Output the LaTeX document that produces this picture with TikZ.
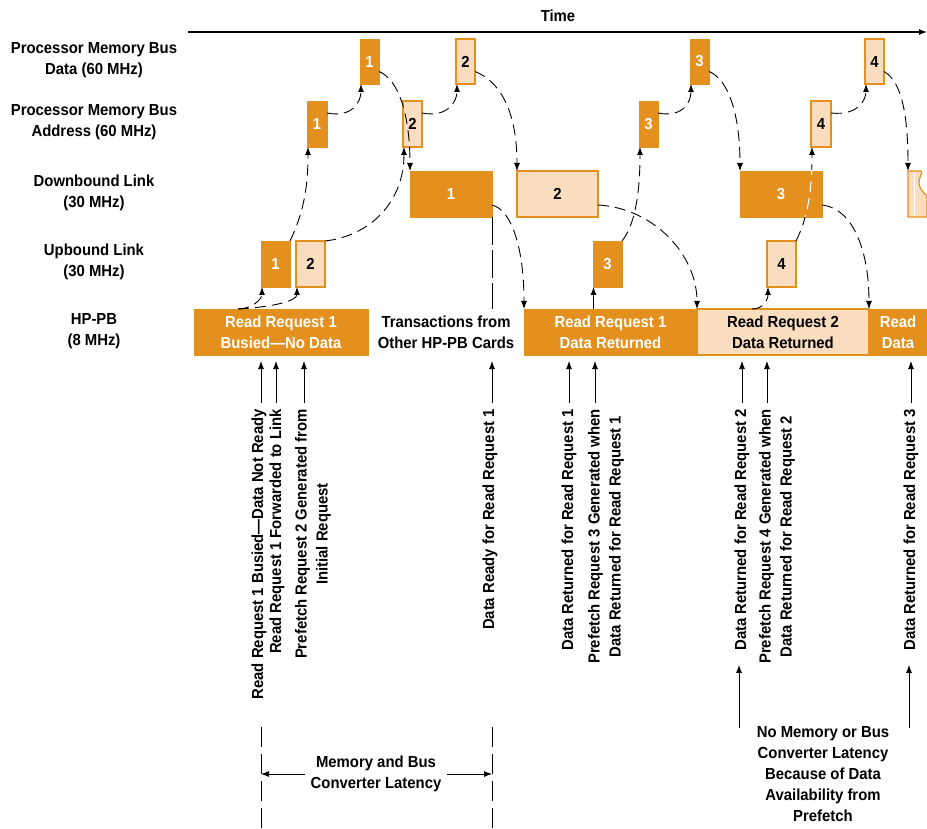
\documentclass[tikz,border=0pt]{standalone}
\usepackage{fontspec}
\setmainfont{Liberation Sans}[FakeStretch=0.93]
\usepackage{tikz}
\usetikzlibrary{arrows.meta}
\definecolor{hporange}{RGB}{228,144,30}
\definecolor{hplight}{RGB}{249,221,190}

\begin{document}
\begin{tikzpicture}[x=1pt,y=-1pt,>={Latex[length=8pt,width=6pt]},
  every node/.style={font=\fontsize{16}{21}\selectfont\bfseries},
  dk/.style={fill=hporange,draw=hporange,text=white,align=center,inner sep=0pt,outer sep=0pt},
  lt/.style={fill=hplight,draw=hporange,line width=1.2pt,text=black,align=center,inner sep=0pt,outer sep=0pt},
  lnk/.style={->,line width=0.9pt,dash pattern=on 11pt off 6pt},
  lbl/.style={rotate=90,anchor=east,align=center,inner sep=0pt}]
\useasboundingbox (0,0) rectangle (927,829);
% time axis
\coordinate (tstart) at (188,32);
\coordinate (tend) at (927,32);
\draw [line width=1.2pt,->] (tstart) -- (tend);
\node (time) at (558,16) {Time};
% row labels
\node [align=center] (lpd) at (94,60.5) {Processor Memory Bus\\Data (60 MHz)};
\node [align=center] (lpa) at (94,122.5) {Processor Memory Bus\\Address (60 MHz)};
\node [align=center] (ldn) at (94,192.5) {Downbound Link\\(30 MHz)};
\node [align=center] (lup) at (94,262) {Upbound Link\\(30 MHz)};
\node [align=center] (lhp) at (94,331.5) {HP-PB\\(8 MHz)};
% memory bus data
\node [dk,minimum width=19pt,minimum height=45pt] (d1) at (369.5,61.5) {1};
\node [lt,minimum width=19pt,minimum height=45pt] (d2) at (465.5,61.5) {2};
\node [dk,minimum width=19pt,minimum height=45pt] (d3) at (699.5,61.5) {3};
\node [lt,minimum width=19pt,minimum height=45pt] (d4) at (874.5,61.5) {4};
% memory bus address
\node [dk,minimum width=20pt,minimum height=46pt] (a1) at (317,124) {1};
\node [lt,minimum width=19pt,minimum height=46pt] (a2) at (412.5,124) {2};
\node [dk,minimum width=19pt,minimum height=46pt] (a3) at (648.5,124) {3};
\node [lt,minimum width=20pt,minimum height=46pt] (a4) at (821,124) {4};
% downbound link
\node [dk,minimum width=82pt,minimum height=46pt] (w1) at (451,194) {1};
\node [lt,minimum width=81pt,minimum height=46pt] (w2) at (557.5,194) {2};
\node [dk,minimum width=82pt,minimum height=46pt] (w3) at (781,194) {3};
\filldraw [fill=hplight,draw=hporange,line width=1.2pt] (908,171) -- (921,171)
  .. controls (924,171) and (918,178) .. (919,184)
  .. controls (920,190) and (925,194) .. (927,196) -- (927,217) -- (908,217) -- cycle;
\draw [white,line width=0.6pt] (914,173) -- (914,215);
\coordinate (w4) at (908,171);
% upbound link
\node [dk,minimum width=29pt,minimum height=46pt] (u1) at (275.5,264) {1};
\node [lt,minimum width=29pt,minimum height=46pt] (u2) at (310.5,264) {2};
\node [dk,minimum width=29pt,minimum height=46pt] (u3) at (607.5,264) {3};
\node [lt,minimum width=29pt,minimum height=46pt] (u4) at (781.5,264) {4};
% hp-pb
\node [dk,minimum width=174pt,minimum height=46pt] (h1) at (281,332) {Read Request 1\\Busied---No Data};
\node [align=center] (oth) at (446,332) {Transactions from\\Other HP-PB Cards};
\node [dk,minimum width=173pt,minimum height=46pt] (h2) at (610.5,332) {Read Request 1\\Data Returned};
\node [lt,minimum width=172pt,minimum height=46pt] (h3) at (783,332) {Read Request 2\\Data Returned};
\node [dk,minimum width=58pt,minimum height=46pt] (h4) at (898,332) {Read\\Data};
%% transfers
\coordinate (rq1) at ([xshift=-43pt]h1.north);
\draw [lnk] (rq1) .. controls +(14,0) and +(0,12) .. ([xshift=1pt]u1.south west);
\draw [lnk] (rq1) .. controls +(35,-2) and +(0,14) .. ([xshift=1pt]u2.south west);
\draw [lnk] (u1.north east) .. controls +(12,-25) and +(0,45) .. ([xshift=1pt]a1.south west);
\draw [lnk] (u2.north east) .. controls +(45,-5) and +(0,55) .. ([xshift=1pt]a2.south west);
\draw [lnk] ([yshift=11pt]a1.east) .. controls +(25,5) and +(0,18) .. ([xshift=1pt]d1.south west);
\draw [lnk] ([yshift=11pt]a2.east) .. controls +(25,5) and +(0,18) .. ([xshift=1pt]d2.south west);
\draw [lnk] ([yshift=-10pt]d1.east) .. controls +(20,8) and +(0,-55) .. (w1.north west);
\draw [lnk] ([yshift=-10pt]d2.east) .. controls +(25,10) and +(0,-60) .. (w2.north west);
\draw [line width=0.9pt,dash pattern=on 28pt off 5pt] (w1.south east) -- ++(0,92);
\draw [lnk] ([yshift=-11pt]w1.east) .. controls +(20,5) and +(0,-60) .. (h2.north west);
\draw [lnk] ([yshift=-11pt]w2.east) .. controls +(55,3) and +(0,-55) .. (h3.north west);
\draw [line width=0.9pt,->] ([xshift=0.5pt]u3.south west) ++(0,22) -- ([xshift=0.5pt]u3.south west);
\draw [lnk] (u3.north east) .. controls +(12,-15) and +(0,50) .. ([xshift=1pt]a3.south west);
\draw [lnk] ([yshift=11pt]a3.east) .. controls +(25,5) and +(0,18) .. ([xshift=1pt]d3.south west);
\draw [lnk] ([yshift=-10pt]d3.east) .. controls +(20,8) and +(0,-55) .. (w3.north west);
\draw [lnk] ([yshift=-11pt]w3.east) .. controls +(30,3) and +(0,-60) .. (h4.north west);
\draw [lnk] ([xshift=-31pt]h3.north) .. controls +(12,0) and +(0,12) .. ([xshift=1pt]u4.south west);
\draw [lnk] (u4.north east) .. controls +(10,-20) and +(0,50) .. ([xshift=1pt]a4.south west);
\begin{scope}
\clip (w3.south west) rectangle (w3.north east);
\draw [lnk,white,line width=1.3pt] (u4.north east) .. controls +(10,-20) and +(0,50) .. ([xshift=1pt]a4.south west);
\end{scope}
\draw [lnk] ([yshift=11pt]a4.east) .. controls +(28,3) and +(0,15) .. ([xshift=1pt]d4.south west);
\draw [lnk] ([yshift=-10pt]d4.east) .. controls +(18,10) and +(0,-55) .. (w4);
%% events
\node [lbl] (t1) at (259,409) {Read Request 1 Busied---Data Not Ready};
\node [lbl] (t2) at (277,409) {Read Request 1 Forwarded to Link};
\node [lbl] (t3) at (313,409) {Prefetch Request 2 Generated from\\Initial Request};
\node [lbl] (t4) at (490,409) {Data Ready for Read Request 1};
\node [lbl] (t5) at (569,409) {Data Returned for Read Request 1};
\node [lbl] (t6) at (606,409) {Prefetch Request 3 Generated when\\Data Returned for Read Request 1};
\node [lbl] (t7) at (742,409) {Data Returned for Read Request 2};
\node [lbl] (t8) at (777,409) {Prefetch Request 4 Generated when\\Data Returned for Read Request 2};
\node [lbl] (t9) at (911,409) {Data Returned for Read Request 3};
\draw [line width=0.9pt,->] ([xshift=2pt,yshift=6pt]t1.east) -- ++(0,-42);
\draw [line width=0.9pt,->] ([xshift=-1pt,yshift=6pt]t2.east) -- ++(0,-42);
\draw [line width=0.9pt,->] ([xshift=-9pt,yshift=6pt]t3.east) -- ++(0,-42);
\draw [line width=0.9pt,->] ([xshift=2pt,yshift=6pt]t4.east) -- ++(0,-42);
\draw [line width=0.9pt,->] ([yshift=6pt]t5.east) -- ++(0,-42);
\draw [line width=0.9pt,->] ([xshift=-11pt,yshift=6pt]t6.east) -- ++(0,-42);
\draw [line width=0.9pt,->] ([yshift=6pt]t7.east) -- ++(0,-42);
\draw [line width=0.9pt,->] ([xshift=-10pt,yshift=6pt]t8.east) -- ++(0,-42);
\draw [line width=0.9pt,->] ([yshift=6pt]t9.east) -- ++(0,-42);
%% latency
\coordinate (lat1) at (261,727);
\coordinate (lat2) at (492,727);
\draw [line width=0.9pt,dash pattern=on 20pt off 7pt] (lat1) -- ++(0,102);
\draw [line width=0.9pt,dash pattern=on 20pt off 7pt] (lat2) -- ++(0,102);
\node [align=center,inner sep=5pt] (lat) at (376,774) {Memory and Bus\\Converter Latency};
\draw [line width=0.9pt,->] (lat.west) -- (lat.west -| lat1);
\draw [line width=0.9pt,->] (lat.east) -- (lat.east -| lat2);
\node [align=center] (nm) at (823,774) {No Memory or Bus\\Converter Latency\\Because of Data\\Availability from\\Prefetch};
\draw [line width=0.9pt,<-] ([xshift=-3pt,yshift=-14pt]t7.west) -- ++(0,63);
\draw [line width=0.9pt,<-] ([xshift=-2pt,yshift=-14pt]t9.west) -- ++(0,63);
\end{tikzpicture}
\end{document}
